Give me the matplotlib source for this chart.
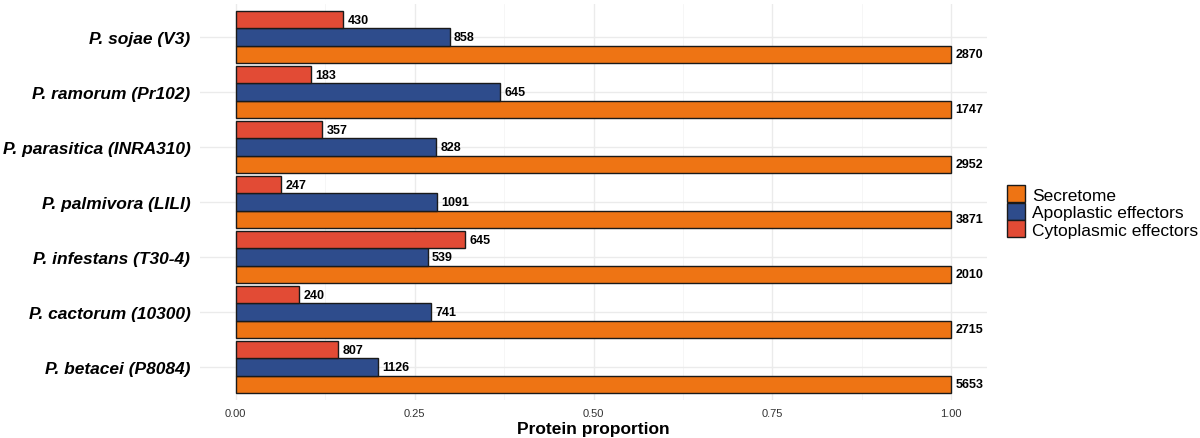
import matplotlib
matplotlib.use("Agg")
import matplotlib.pyplot as plt
from matplotlib.patches import Patch
import numpy as np

plt.rcParams['font.family'] = ['Liberation Sans', 'DejaVu Sans']

species = ["P. betacei (P8084)", "P. cactorum (10300)", "P. infestans (T30-4)",
           "P. palmivora (LILI)", "P. parasitica (INRA310)", "P. ramorum (Pr102)",
           "P. sojae (V3)"]
secretome = [5653, 2715, 2010, 3871, 2952, 1747, 2870]
apoplastic = [1126, 741, 539, 1091, 828, 645, 858]
cytoplasmic = [807, 240, 645, 247, 357, 183, 430]

series_names = ["Secretome", "Apoplastic effectors", "Cytoplasmic effectors"]
colors = ["#EE7414", "#2E4C8C", "#E24B35"]
xticks = [0.0, 0.25, 0.5, 0.75, 1.0]
xticklabels = ["0.00", "0.25", "0.50", "0.75", "1.00"]

fig = plt.figure(figsize=(12, 4.39), dpi=100)
ax = fig.add_axes([0.1667, 0.0866, 0.6558, 0.902])

sec = np.array(secretome, dtype=float)
series = [sec, np.array(apoplastic, float), np.array(cytoplasmic, float)]
props = [s / sec for s in series]

y = np.arange(len(species))
bh = 0.31
offsets = [-bh, 0, bh]
for k in range(3):
    ax.barh(y + offsets[k], props[k], height=bh, color=colors[k],
            edgecolor="#1a1a1a", linewidth=1.0, zorder=3)
    for i in range(len(species)):
        ax.text(props[k][i] + 0.006, y[i] + offsets[k], str(int(series[k][i])),
                va="center", ha="left", fontsize=9, fontweight="bold",
                color="black", zorder=4)

ax.set_xlim(-0.05, 1.05)
ax.set_ylim(-0.6, len(species) - 0.4)
ax.set_yticks(y)
ax.set_yticklabels(species, fontsize=12.5, fontweight="bold", style="italic")
ax.set_xticks(xticks)
ax.set_xticklabels(xticklabels, fontsize=8, color="#333333")
ax.set_xticks([0.125, 0.375, 0.625, 0.875], minor=True)
ax.grid(which="major", color="#EBEBEB", linewidth=1.0, zorder=0)
ax.grid(which="minor", axis="x", color="#F5F5F5", linewidth=0.6, zorder=0)
ax.tick_params(axis="both", which="both", length=0)
ax.tick_params(axis="y", pad=7)
ax.tick_params(axis="x", pad=6)
for s in ax.spines.values():
    s.set_visible(False)
ax.set_xlabel("Protein proportion", fontsize=12.5, fontweight="bold", labelpad=2)

handles = [Patch(facecolor=colors[k], edgecolor="#1a1a1a", linewidth=1.0,
                 label=series_names[k]) for k in range(3)]
fig.legend(handles=handles, loc="center left", bbox_to_anchor=(0.8335, 0.516),
           frameon=False, fontsize=12.5, handlelength=1.05, handleheight=1.15,
           handletextpad=0.4, labelspacing=0.0, borderaxespad=0)

fig.savefig("out.png", dpi=100)
